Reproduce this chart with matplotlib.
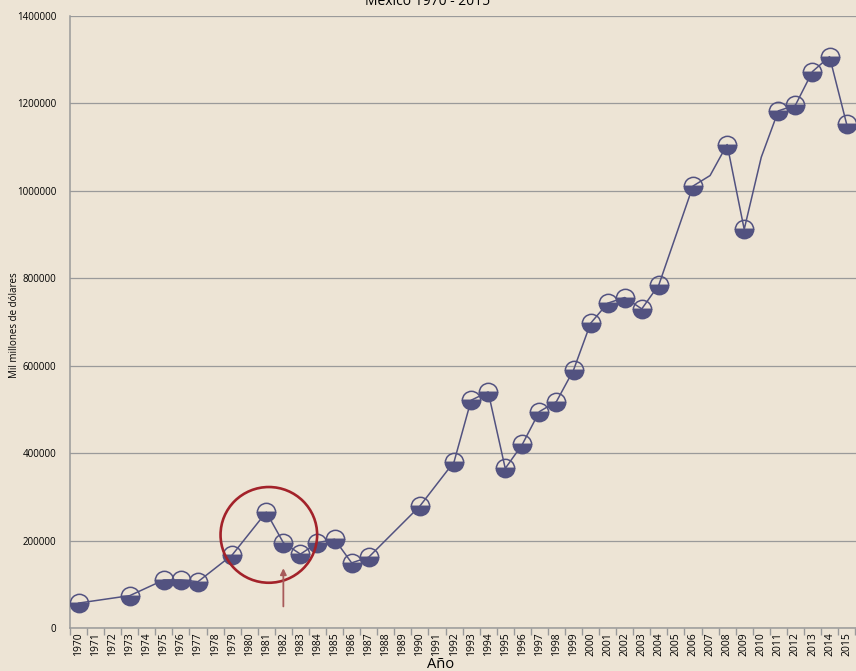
import numpy as np
import matplotlib.pyplot as plt
from matplotlib.patches import Ellipse

plt.rcParams['font.family'] = ['Open Sans', 'DejaVu Sans']

# PIB de Mexico, mil millones de dolares
years = [1970, 1973, 1975, 1976, 1977, 1979, 1981, 1982, 1983, 1984, 1985, 1986,
         1987, 1990, 1992, 1993, 1994, 1995, 1996, 1997, 1998, 1999, 2000, 2001,
         2002, 2003, 2004, 2006, 2007, 2008, 2009, 2010, 2011, 2012, 2013, 2014, 2015]
values = [57000, 74000, 110000, 110000, 106000, 167000, 265000, 195000, 169000,
          195000, 203000, 149000, 162000, 279000, 380000, 521000, 540000, 365000,
          420000, 495000, 518000, 590000, 697000, 743000, 756000, 730000, 785000,
          1011000, 1035000, 1106000, 912000, 1077000, 1183000, 1196000, 1273000,
          1307000, 1153000]
# years on the line without a basket marker
no_marker = [2007, 2010]

tick_years = list(range(1970, 2016))
y_ticks = [0, 200000, 400000, 600000, 800000, 1000000, 1200000, 1400000]

bg = '#ede4d5'
col = '#525280'
grid_col = '#9a9a9a'

fig = plt.figure(figsize=(8.56, 6.71), dpi=100, facecolor=bg)
ax = fig.add_axes([70/856, 1-628/671, 786/856, 612/671], facecolor=bg)

yrs = np.array(years)
vals = np.array(values)
ax.plot(yrs, vals, color=col, lw=1.1, zorder=3)
mask = ~np.isin(yrs, no_marker)
ax.plot(yrs[mask], vals[mask], ls='none', marker='o', ms=13.2,
        fillstyle='bottom', markerfacecolor=col, markerfacecoloralt='none',
        markeredgecolor=col, markeredgewidth=1.1, zorder=4)

# circulo rojo y flecha sobre la crisis de 1982
ax.add_patch(Ellipse((1981.15, 213000), 5.66, 219000, fill=False,
                     edgecolor='#a3222a', lw=1.9, zorder=5))
ax.annotate('', xy=(1982.0, 143000), xytext=(1982.0, 43000),
            arrowprops=dict(arrowstyle='-|>', color='#a85a5a', lw=1.3,
                            mutation_scale=9), zorder=5)

ax.set_xlim(1969.5, 2015.55)
ax.set_ylim(0, 1400000)
ax.set_yticks(y_ticks)
ax.set_yticklabels([str(v) for v in y_ticks], fontsize=7)
ax.tick_params(axis='y', length=0, pad=10)
ax.set_xticks(tick_years)
ax.set_xticklabels([str(y) for y in tick_years], rotation=90, fontsize=7.5)
ax.tick_params(axis='x', which='major', length=0, pad=3)
ax.set_xticks(np.arange(1969.5, 2016, 1.0), minor=True)
ax.tick_params(axis='x', which='minor', length=5, width=1, color=grid_col, direction='out')

ax.grid(axis='y', color=grid_col, lw=0.9)
ax.set_axisbelow(True)
for s in ['top', 'right']:
    ax.spines[s].set_visible(False)
for s in ['left', 'bottom']:
    ax.spines[s].set_color(grid_col)
    ax.spines[s].set_linewidth(1.1)

fig.text(0.5, 1 - 5/671, 'México 1970 - 2015', ha='center', va='baseline', fontsize=10)
fig.text(15/856, 1 - 325/671, 'Mil millones de dólares', rotation=90,
         ha='center', va='center', fontsize=7)
fig.text(441/856, 1 - 664/671, 'Año', ha='center', va='center', fontsize=10.5)

fig.savefig('out.png', dpi=100, facecolor=bg)
